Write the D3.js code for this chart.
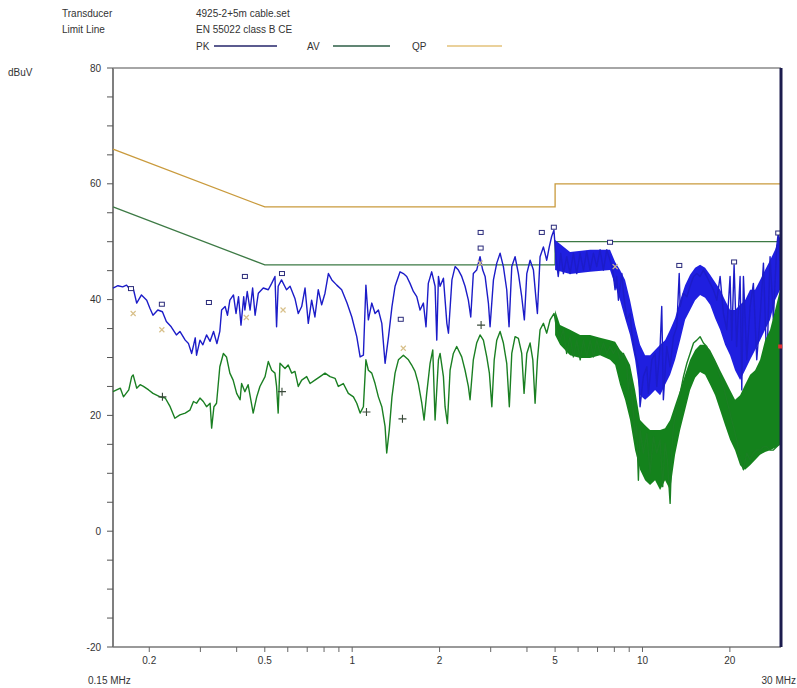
<!DOCTYPE html>
<html>
<head>
<meta charset="utf-8">
<script src="https://cdn.jsdelivr.net/npm/d3@7"></script>
<style>
  body { margin: 0; background: #fff; }
  text { font-family: "Liberation Sans", Arial, sans-serif; fill: #333; }
</style>
</head>
<body>
<div id="chart"></div>
<script>
// axis ticks
const freqTicks = [0.2, 0.5, 1, 2, 5, 10, 20];
const freqMinor = [0.3, 0.4, 0.6, 0.7, 0.8, 0.9, 3, 4, 6, 7, 8, 9];
const dbTicks = [80, 60, 40, 20, 0, -20];
const dbMinor = [75, 70, 65, 55, 50, 45, 35, 30, 25, 15, 10, 5, -5, -10, -15];

// limit lines EN 55022 class B
const limitFreq = [0.15, 0.5, 5, 5, 30];
const qpLimit = [66, 56, 56, 60, 60];
const avLimit = [56, 46, 46, 50, 50];

// peak trace (MHz, dBuV)
const pkFreq = [0.150,0.156,0.162,0.167,0.172,0.176,0.181,0.188,0.196,0.201,0.206,0.214,0.222,0.229,0.238,0.248,0.255,0.266,0.273,0.280,
  0.288,0.291,0.299,0.306,0.315,0.324,0.333,0.342,0.350,0.355,0.365,0.372,0.379,0.390,0.398,0.406,0.414,0.423,0.427,0.435,
  0.445,0.454,0.463,0.475,0.494,0.514,0.528,0.542,0.549,0.556,0.571,0.594,0.611,0.635,0.652,0.670,0.688,0.706,0.725,0.744,
  0.764,0.785,0.806,0.828,0.851,0.885,0.920,0.960,0.997,1.037,1.065,1.093,1.115,1.137,1.168,1.199,1.231,1.265,1.298,1.334,
  1.371,1.405,1.462,1.501,1.541,1.582,1.625,1.669,1.713,1.759,1.796,1.829,1.879,1.930,1.956,1.982,2.008,2.062,2.119,2.146,
  2.206,2.262,2.322,2.384,2.448,2.513,2.561,2.614,2.684,2.757,2.816,2.870,2.946,2.985,3.066,3.148,3.232,3.318,3.407,3.470,
  3.546,3.640,3.737,3.837,3.918,3.995,4.101,4.211,4.301,4.345,4.438,4.557,4.679,4.774,4.865,4.954,5.033,5.126,5.230,5.341,
  5.484,5.631,5.781,5.936,6.095,6.260,6.427,6.599,6.776,6.957,7.143,7.335,7.532,7.733,7.900,8.045,8.150,8.262,8.49,8.60,
  8.83,9.06,9.19,9.43,9.68,9.81,10.07,10.35,10.48,10.77,11.05,11.20,11.50,11.65,11.80,12.12,12.45,12.78,13.13,13.38,
  13.48,13.84,14.22,14.59,14.99,15.39,15.79,16.21,16.65,17.10,17.55,18.03,18.51,19.00,19.51,20.03,20.30,20.68,21.10,21.69,
  21.98,22.27,22.87,23.48,24.10,24.75,25.42,26.10,26.80,27.51,28.24,28.99,29.35,29.78,30.0];
const pkDb = [42.0,42.4,42.2,42.5,41.7,42.0,39.4,40.8,39.9,38.5,37.3,38.2,37.9,36.2,35.3,33.9,34.5,33.0,32.4,30.7,
  33.4,30.4,33.0,32.2,33.9,32.8,34.5,32.4,34.5,38.2,38.8,37.3,39.9,40.8,37.6,40.5,35.6,40.5,38.2,41.4,
  38.2,42.0,37.3,41.1,42.0,41.7,42.8,44.0,35.3,42.3,43.4,41.7,42.3,40.2,37.6,38.8,42.0,35.9,39.9,37.0,
  41.7,39.1,41.1,44.5,43.4,42.5,41.7,39.4,37.0,33.6,30.1,30.4,42.5,36.5,39.4,37.6,38.2,35.9,29.0,33.6,
  38.8,42.3,44.8,44.5,44.0,42.8,41.4,40.5,38.2,39.4,35.3,42.8,44.8,42.3,33.0,44.0,42.3,43.7,35.9,34.2,
  43.4,45.7,45.1,44.0,42.3,39.9,37.0,44.5,45.1,47.4,45.1,44.0,39.4,35.3,43.4,46.3,48.0,45.7,41.7,35.3,
  45.7,47.4,44.5,40.5,36.5,44.5,46.8,45.1,39.9,37.6,47.4,49.1,46.8,49.1,50.9,52.0,47.4,44.0,48.0,44.5,
  47.4,44.5,48.0,44.5,48.0,45.1,48.3,45.1,48.0,45.7,48.6,45.1,48.6,46.8,45.1,41.7,44.0,39.9,44.5,41.1,
  36.5,37.6,34.2,30.7,28.4,21.5,26.7,28.4,23.8,29.6,30.7,25.0,31.9,38.8,22.7,31.9,28.4,33.6,35.3,44.5,
  38.8,41.1,40.5,42.3,44.0,44.5,44.0,45.1,44.0,42.8,41.7,39.9,44.0,37.6,34.8,44.0,33.0,46.0,31.9,44.0,
  24.4,44.0,29.6,38.8,42.8,29.6,37.0,46.3,28.4,47.4,36.5,49.1,51.5,46.8,48.6];

// average trace (MHz, dBuV)
const avFreq = [0.150,0.159,0.163,0.170,0.174,0.176,0.181,0.186,0.191,0.199,0.206,0.218,0.227,0.236,0.245,0.255,0.266,0.276,0.284,0.291,
  0.299,0.307,0.315,0.324,0.328,0.334,0.341,0.350,0.360,0.369,0.379,0.389,0.400,0.411,0.416,0.427,0.438,0.456,0.469,0.481,
  0.501,0.514,0.528,0.542,0.549,0.556,0.564,0.587,0.602,0.619,0.635,0.652,0.670,0.697,0.716,0.744,0.775,0.806,0.839,0.873,
  0.896,0.932,0.970,1.010,1.037,1.065,1.093,1.115,1.137,1.168,1.199,1.231,1.265,1.298,1.315,1.342,1.371,1.405,1.443,1.501,
  1.562,1.603,1.646,1.690,1.737,1.769,1.806,1.855,1.895,1.930,1.982,2.008,2.062,2.089,2.128,2.174,2.231,2.291,2.384,2.448,
  2.513,2.547,2.614,2.684,2.757,2.831,2.908,2.969,3.027,3.085,3.148,3.232,3.318,3.407,3.478,3.546,3.640,3.737,3.837,3.909,
  3.995,4.101,4.19,4.266,4.346,4.438,4.557,4.679,4.805,4.960,5.07,5.20,5.34,5.48,5.63,5.78,5.94,6.10,6.26,6.43,
  6.60,6.78,6.96,7.14,7.34,7.53,7.73,7.94,8.15,8.37,8.60,8.83,8.94,9.06,9.31,9.43,9.55,9.68,9.81,10.07,
  10.35,10.62,10.91,11.20,11.50,11.74,11.96,12.18,12.45,12.61,12.78,13.13,13.48,13.84,14.22,14.59,14.99,15.39,15.79,16.21,
  16.65,17.10,17.55,18.03,18.51,19.00,19.51,20.03,20.56,21.10,21.69,22.27,22.87,23.48,24.10,24.75,25.42,26.10,26.80,27.51,
  28.24,28.99,29.78];
const avDb = [24.1,24.7,23.2,24.4,26.7,27.0,24.7,25.3,25.0,24.4,23.8,23.2,23.0,21.5,19.5,20.1,20.4,20.9,22.4,22.1,
  23.0,22.4,21.5,22.1,17.8,21.5,22.1,28.4,30.7,30.1,27.3,26.1,23.8,22.7,25.5,24.1,25.3,20.4,23.2,25.0,
  26.7,29.3,27.8,27.3,25.0,20.4,29.0,28.1,28.7,27.3,27.6,25.0,26.1,26.7,25.5,26.1,26.7,27.3,26.7,26.4,
  25.0,25.5,23.8,23.2,22.1,20.4,21.5,29.6,27.8,27.3,25.5,23.2,21.5,18.1,13.5,17.5,23.2,27.3,29.6,30.4,
  29.6,28.7,27.6,25.5,22.1,19.2,23.8,29.0,31.3,19.2,29.6,30.7,26.7,21.5,18.6,27.8,30.7,31.9,30.1,27.8,
  25.0,22.7,29.6,32.5,33.9,33.0,30.1,27.3,21.5,29.6,33.0,34.5,32.5,29.0,21.5,30.7,33.6,33.3,30.7,23.8,
  30.7,32.5,29.6,22.1,29.6,34.8,35.9,34.2,36.5,37.6,34.8,33.0,34.8,30.7,33.6,30.1,33.0,29.6,33.0,30.1,
  33.0,30.1,33.0,30.7,32.5,30.7,31.9,30.7,31.9,29.6,30.7,28.4,24.4,26.7,20.4,16.3,18.1,8.8,17.5,13.5,
  16.9,10.0,16.3,13.5,15.8,7.7,15.2,12.3,4.8,13.5,18.1,21.5,23.8,26.7,29.0,30.7,32.5,33.0,33.6,32.5,
  31.9,30.7,29.6,28.4,26.7,25.0,22.7,20.4,18.1,15.8,12.3,10.6,13.5,12.3,13.5,14.0,14.0,14.6,14.6,14.0,
  14.0,14.6,15.2];

// spread of the dense parts of each trace (MHz, upper dBuV, lower dBuV)
const pkBandFreq = [5.0,5.63,6.6,7.73,8.05,8.37,8.71,9.06,9.43,9.81,10.21,10.62,11.05,11.5,11.96,12.45,12.95,13.48,14.02,14.59,
  15.18,15.79,16.43,17.1,17.79,18.51,19.25,20.03,20.84,21.69,22.56,23.48,24.43,25.42,26.44,27.51,28.62,29.78,30];
const pkBandHi = [50.3,48.2,48.6,48.6,46.5,45.1,43.4,39.9,35.6,32.2,30.4,30.4,31.3,32.2,33.0,34.8,36.8,39.9,42.5,44.3,
  45.5,46.0,45.5,44.3,43.0,41.7,39.9,38.2,38.2,39.1,39.9,41.7,41.7,43.4,45.1,46.8,48.6,51.2,50.3];
const pkBandLo = [45.1,44.4,44.8,45.1,42.5,39.9,36.8,33.9,29.6,23.5,22.7,23.5,24.4,23.5,25.3,27.0,29.6,33.0,36.5,38.2,
  39.9,40.8,40.3,39.1,36.8,34.8,32.2,30.4,27.8,26.1,27.8,29.6,31.3,33.0,34.8,36.5,39.9,41.7,41.7];

const avBandFreq = [5.0,5.2,5.63,6.1,6.6,7.14,7.73,8.05,8.37,8.71,9.06,9.43,9.81,10.21,10.62,11.05,11.5,11.96,12.45,12.95,
  13.48,14.02,14.59,15.18,15.79,16.43,17.1,17.79,18.51,19.25,20.03,20.84,21.69,22.56,23.48,24.43,25.42,26.44,27.51,28.62,
  29.78,30];
const avBandHi = [38.2,35.6,34.8,33.9,33.9,33.4,33.0,32.7,31.3,30.4,28.7,24.4,19.2,18.3,17.5,17.5,17.5,17.8,19.2,21.8,
  24.4,27.0,29.6,31.3,32.2,32.2,31.3,29.6,27.8,26.1,24.4,22.7,23.5,25.3,27.0,27.8,29.6,33.0,34.8,38.2,
  41.7,42.5];
const avBandLo = [33.9,32.2,30.4,29.9,29.9,30.4,29.6,28.7,25.3,22.7,19.2,14.0,10.6,8.8,8.0,8.8,7.1,8.8,7.1,13.2,
  17.5,20.9,24.4,26.5,27.5,27.0,25.3,23.5,20.9,18.3,15.8,14.0,11.4,10.6,11.4,12.3,13.2,13.7,14.0,14.4,
  14.9,14.9];

// final measurement markers
const pkMarkFreq = [0.173,0.221,0.321,0.427,0.573,1.47,2.77,2.77,4.50,4.95,7.73,13.39,20.68,29.35];
const pkMarkDb = [41.9,39.2,39.5,44.0,44.5,36.6,51.6,48.9,51.6,52.5,49.9,45.9,46.5,51.5];
const qpMarkFreq = [0.176,0.221,0.432,0.578,1.50,2.76,8.05];
const qpMarkDb = [37.6,34.8,36.9,38.2,31.6,46.3,45.7];
const avMarkFreq = [0.222,0.573,1.12,1.49,2.78];
const avMarkDb = [23.2,24.1,20.6,19.4,35.6];

const margin = { top: 68, right: 16, bottom: 41, left: 113 };
const width = 797 - margin.left - margin.right;
const height = 688 - margin.top - margin.bottom;

const root = d3.select('#chart')
  .append('svg')
  .attr('width', 797)
  .attr('height', 688);

const svg = root.append('g').attr('transform', `translate(${margin.left},${margin.top})`);

const x = d3.scaleLog().domain([0.15, 30]).range([0, width]);
const y = d3.scaleLinear().domain([-20, 80]).range([height, 0]);

// header text
const header = root.append('g').style('font-size', '10px');
header.append('text').attr('x', 62).attr('y', 17).text('Transducer');
header.append('text').attr('x', 62).attr('y', 33).text('Limit Line');
header.append('text').attr('x', 196).attr('y', 17).text('4925-2+5m cable.set');
header.append('text').attr('x', 196).attr('y', 33).text('EN 55022 class B CE');

const legend = [
  { label: 'PK', x: 196, x1: 214, x2: 277, color: '#24246a' },
  { label: 'AV', x: 307, x1: 333, x2: 390, color: '#2d5e46' },
  { label: 'QP', x: 412, x1: 447, x2: 502, color: '#e3c27a' },
];
legend.forEach((d) => {
  header.append('text').attr('x', d.x).attr('y', 50).text(d.label);
  header.append('line').attr('x1', d.x1).attr('x2', d.x2).attr('y1', 46).attr('y2', 46)
    .attr('stroke', d.color).attr('stroke-width', 1.3);
});

root.append('text').attr('x', 8).attr('y', 76).style('font-size', '10px').text('dBuV');

// y axis
svg.append('line').attr('x1', 0).attr('x2', 0).attr('y1', 0).attr('y2', height)
  .attr('stroke', '#555').attr('stroke-width', 1.5);
svg.selectAll('.ytick')
  .data(dbTicks.concat(dbMinor))
  .enter()
  .append('line')
  .attr('x1', -6).attr('x2', 0)
  .attr('y1', (d) => y(d)).attr('y2', (d) => y(d))
  .attr('stroke', '#555').attr('stroke-width', 1);
svg.selectAll('.ylabel')
  .data(dbTicks)
  .enter()
  .append('text')
  .attr('x', -12)
  .attr('y', (d) => y(d) + 3.5)
  .style('text-anchor', 'end')
  .style('font-size', '10px')
  .text((d) => d);

// x axis
svg.append('line').attr('x1', 0).attr('x2', width).attr('y1', height).attr('y2', height)
  .attr('stroke', '#777').attr('stroke-width', 1.5);
svg.append('line').attr('x1', 0).attr('x2', width).attr('y1', 0).attr('y2', 0)
  .attr('stroke', '#888').attr('stroke-width', 1.5);
svg.selectAll('.xtick')
  .data(freqTicks.concat(freqMinor))
  .enter()
  .append('line')
  .attr('x1', (d) => x(d)).attr('x2', (d) => x(d))
  .attr('y1', height).attr('y2', height + 5)
  .attr('stroke', '#666').attr('stroke-width', 1);
svg.selectAll('.xlabel')
  .data(freqTicks)
  .enter()
  .append('text')
  .attr('x', (d) => x(d))
  .attr('y', height + 17)
  .style('text-anchor', 'middle')
  .style('font-size', '10px')
  .text((d) => d);
svg.append('text').attr('x', -25).attr('y', height + 37).style('font-size', '10px').text('0.15 MHz');
svg.append('text').attr('x', width + 15).attr('y', height + 37).style('text-anchor', 'end')
  .style('font-size', '10px').text('30 MHz');

// limit lines
const limitLine = d3.line().x((d) => x(d[0])).y((d) => y(d[1]));
svg.append('path')
  .attr('d', limitLine(d3.zip(limitFreq, qpLimit)))
  .attr('fill', 'none').attr('stroke', '#c99a3c').attr('stroke-width', 1.3);
svg.append('path')
  .attr('d', limitLine(d3.zip(limitFreq, avLimit)))
  .attr('fill', 'none').attr('stroke', '#3d7a45').attr('stroke-width', 1.3);

// traces
const band = d3.area().x((d) => x(d[0])).y0((d) => y(d[2])).y1((d) => y(d[1]));
const trace = d3.line().x((d) => x(d[0])).y((d) => y(d[1]));

svg.append('path')
  .attr('d', band(d3.zip(pkBandFreq, pkBandHi, pkBandLo)))
  .attr('fill', '#1f1fe0');
svg.append('path')
  .attr('d', trace(d3.zip(pkFreq, pkDb)))
  .attr('fill', 'none').attr('stroke', '#1c1cc8').attr('stroke-width', 1.4)
  .attr('stroke-linejoin', 'round');

svg.append('path')
  .attr('d', band(d3.zip(avBandFreq, avBandHi, avBandLo)))
  .attr('fill', '#14821c');
svg.append('path')
  .attr('d', trace(d3.zip(avFreq, avDb)))
  .attr('fill', 'none').attr('stroke', '#1a7f22').attr('stroke-width', 1.4)
  .attr('stroke-linejoin', 'round');

// markers
svg.selectAll('.pkmark')
  .data(d3.zip(pkMarkFreq, pkMarkDb))
  .enter()
  .append('rect')
  .attr('x', (d) => x(d[0]) - 2.5).attr('y', (d) => y(d[1]) - 2)
  .attr('width', 5).attr('height', 4)
  .attr('fill', '#fff').attr('stroke', '#2a2a7a').attr('stroke-width', 1);
svg.selectAll('.qpmark')
  .data(d3.zip(qpMarkFreq, qpMarkDb))
  .enter()
  .append('path')
  .attr('d', (d) => `M${x(d[0]) - 2.5},${y(d[1]) - 2.5}l5,5M${x(d[0]) - 2.5},${y(d[1]) + 2.5}l5,-5`)
  .attr('stroke', '#d8c08a').attr('stroke-width', 1.2);
svg.selectAll('.avmark')
  .data(d3.zip(avMarkFreq, avMarkDb))
  .enter()
  .append('path')
  .attr('d', (d) => `M${x(d[0]) - 4},${y(d[1])}h8M${x(d[0])},${y(d[1]) - 4}v8`)
  .attr('stroke', '#3a4a3a').attr('stroke-width', 1.1);

// right frame edge
svg.append('line').attr('x1', width).attr('x2', width).attr('y1', 0).attr('y2', height)
  .attr('stroke', '#1c1c4e').attr('stroke-width', 3);
svg.append('rect')
  .attr('x', x(29.8) - 2).attr('y', y(31.9) - 2).attr('width', 4).attr('height', 4)
  .attr('fill', '#e03030');
</script>
</body>
</html>
